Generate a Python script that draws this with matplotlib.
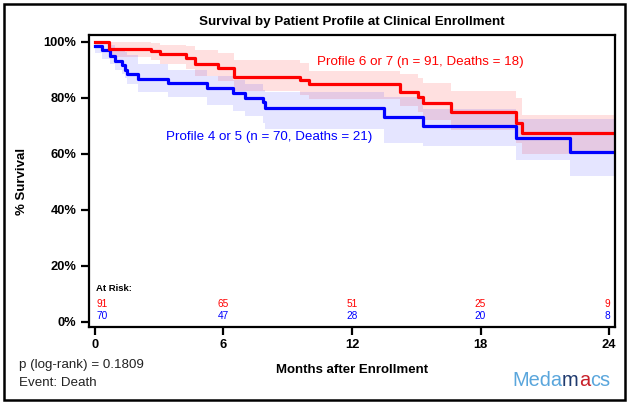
import numpy as np
import matplotlib
matplotlib.use("Agg")
import matplotlib.pyplot as plt
from matplotlib.patches import Rectangle

plt.rcParams['font.family'] = ['Liberation Sans', 'DejaVu Sans']

# Kaplan-Meier steps (months, % survival)
t_red = [0, 0.64, 2.63, 3.02, 4.26, 4.68, 5.74, 6.49, 9.57, 10.0, 14.24, 15.09, 15.33, 16.62, 19.65, 19.92]
s_red = [100, 97.6, 96.8, 95.6, 94.4, 92.0, 90.8, 87.6, 86.4, 84.9, 82.3, 80.5, 78.1, 74.9, 71.2, 67.4]
up_red = [100, 100, 99.5, 99, 98.5, 97, 96, 93.5, 92.5, 89.5, 88.5, 87, 85.5, 82.5, 80, 74]
lo_red = [100, 94.5, 93.5, 92, 90.5, 88, 86, 82.5, 81, 79.5, 77, 75, 72, 68.5, 64, 60]

t_blue = [0, 0.31, 0.70, 0.93, 1.25, 1.40, 1.48, 2.02, 3.42, 5.21, 6.46, 7.00, 7.83, 7.94, 13.5, 15.33, 19.64, 22.2]
s_blue = [98.6, 97.1, 95.0, 93.1, 91.9, 90.1, 88.6, 86.9, 85.4, 83.6, 81.7, 80.0, 78.7, 76.3, 73.3, 70.0, 65.6, 60.7]
up_blue = [100, 99.5, 99, 98, 97.5, 96.5, 95.5, 92, 90, 88, 86.5, 85, 83, 82, 80.5, 76, 72.5, 72.5]
lo_blue = [96, 94, 92, 90, 88.5, 87, 85, 82, 80.5, 77.5, 75.5, 73.5, 71, 69, 64, 63, 58, 52]

t_end = 24.28

risk_times = [0, 6, 12, 18, 24]
risk_red = [91, 65, 51, 25, 9]
risk_blue = [70, 47, 28, 20, 8]

label_red = "Profile 6 or 7 (n = 91, Deaths = 18)"
label_blue = "Profile 4 or 5 (n = 70, Deaths = 21)"

RED = "#ff0000"
BLUE = "#0000ff"


def ext(t, v):
    return np.append(t, t_end), np.append(v, v[-1])


fig = plt.figure(figsize=(6.3, 4.04), dpi=100)
fig.patches.append(Rectangle((4 / 630, 4 / 404), 621 / 630, 396 / 404,
                             transform=fig.transFigure, fill=False,
                             edgecolor='black', linewidth=1.8))

ax = fig.add_axes([89 / 630, 1 - 327 / 404, 526 / 630, 292 / 404])

for t, s, up, lo, c, a in [(t_red, s_red, up_red, lo_red, RED, 0.12),
                           (t_blue, s_blue, up_blue, lo_blue, BLUE, 0.10)]:
    tx, lx = ext(t, lo)
    _, ux = ext(t, up)
    ax.fill_between(tx, lx, ux, step='post', color=c, alpha=a, linewidth=0)

for t, s, c in [(t_blue, s_blue, BLUE), (t_red, s_red, RED)]:
    tx, sx = ext(t, s)
    ax.step(tx, sx, where='post', color=c, linewidth=2.3)

ax.set_xlim(-0.28, t_end)
ax.set_ylim(-1.8, 102.5)
ax.set_xticks(risk_times)
ax.set_yticks([0, 20, 40, 60, 80, 100])
ax.set_yticklabels([f"{v}%" for v in [0, 20, 40, 60, 80, 100]])
for lab in ax.get_xticklabels() + ax.get_yticklabels():
    lab.set_fontweight('bold')
ax.tick_params(axis='both', direction='out', length=6, width=1.6,
               labelsize=9.3, pad=3)
for sp in ax.spines.values():
    sp.set_linewidth(1.6)

ax.text(10.36, 92.9, label_red, color=RED, fontsize=9.6, va='center', ha='left')
ax.text(3.31, 66.0, label_blue, color=BLUE, fontsize=9.6, va='center', ha='left')

ax.text(0.05, 11.8, "At Risk:", fontsize=6.8, fontweight='bold', va='center')
for i, tm in enumerate(risk_times):
    ha = 'left' if i == 0 else ('right' if i == len(risk_times) - 1 else 'center')
    x = tm + (0.05 if i == 0 else (0.05 if i == len(risk_times) - 1 else 0))
    ax.text(x, 6.4, str(risk_red[i]), color=RED, fontsize=7.3, ha=ha, va='center')
    ax.text(x, 2.3, str(risk_blue[i]), color=BLUE, fontsize=7.3, ha=ha, va='center')

fig.text(352 / 630, 1 - 22 / 404, "Survival by Patient Profile at Clinical Enrollment",
         fontsize=9.6, fontweight='bold', ha='center', va='center')
fig.text(352 / 630, 1 - 370 / 404, "Months after Enrollment",
         fontsize=9.5, fontweight='bold', ha='center', va='center')
fig.text(22 / 630, 1 - 181 / 404, "% Survival", fontsize=9.5, fontweight='bold',
         rotation=90, ha='center', va='center')
fig.text(19 / 630, 1 - 365 / 404, "p (log-rank) = 0.1809", fontsize=9.6,
         ha='left', va='center', color='#222222')
fig.text(19 / 630, 1 - 383 / 404, "Event: Death", fontsize=9.6,
         ha='left', va='center', color='#222222')

# logo
logo_parts = [("Meda", "#5aa6dc"), ("m", "#1f3a6e"), ("a", "#c8202a"), ("cs", "#5aa6dc")]
x0 = 512
r = fig.canvas.get_renderer()
for txt, col in logo_parts:
    tt = fig.text(x0 / 630, 1 - 381 / 404, txt, fontsize=14.4, color=col,
                  ha='left', va='center')
    bb = tt.get_window_extent(renderer=r)
    x0 += bb.width

fig.savefig("out.png", dpi=100)
